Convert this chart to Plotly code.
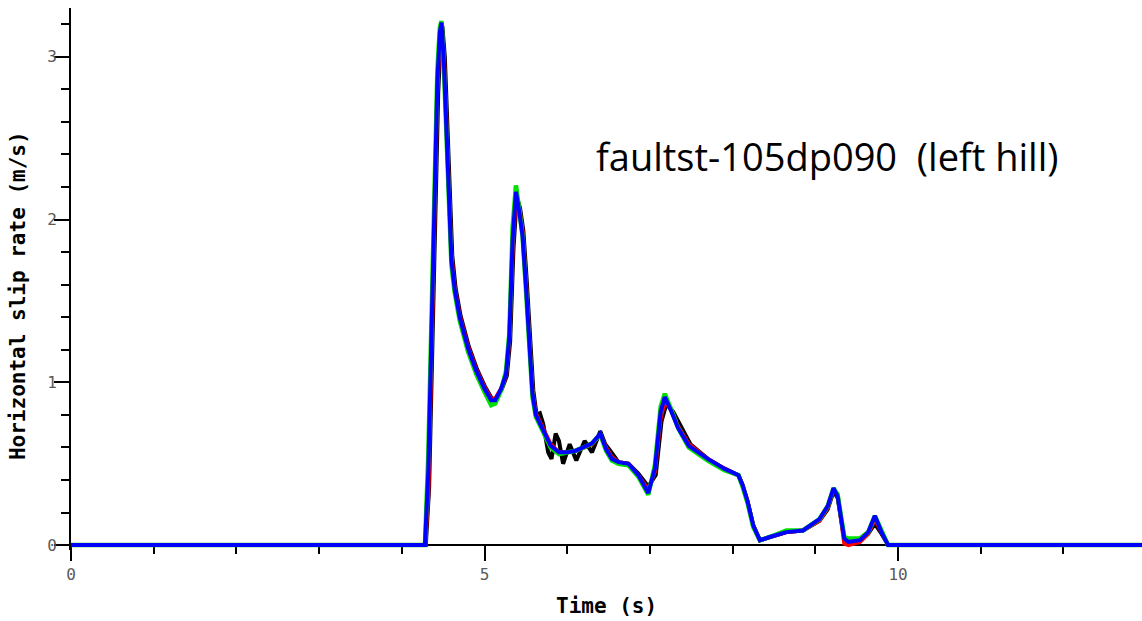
import plotly.graph_objects as go

# Shared time samples (s) for the three smooth solutions
time_s = [
    0, 4.28, 4.32, 4.36, 4.40, 4.43, 4.46, 4.48, 4.51, 4.54,
    4.57, 4.60, 4.64, 4.70, 4.80, 4.90, 5.00, 5.08, 5.13, 5.20,
    5.26, 5.30, 5.34, 5.38, 5.42, 5.46, 5.50, 5.54, 5.58, 5.62,
    5.70, 5.80, 5.90, 6.00, 6.10, 6.20, 6.30, 6.40, 6.47, 6.54,
    6.62, 6.74, 6.86, 6.98, 7.06, 7.13, 7.18, 7.26, 7.34, 7.47,
    7.70, 7.90, 8.07, 8.12, 8.18, 8.25, 8.33, 8.45, 8.65, 8.85,
    9.05, 9.15, 9.22, 9.27, 9.35, 9.40, 9.54, 9.64, 9.72, 9.80,
    9.88, 13.0,
]

slip_blue = [
    0, 0, 0.45, 1.30, 2.25, 2.85, 3.15, 3.21, 2.95, 2.55,
    2.05, 1.75, 1.57, 1.40, 1.21, 1.07, 0.96, 0.89, 0.89, 0.96,
    1.05, 1.28, 1.88, 2.17, 2.05, 1.90, 1.60, 1.25, 0.93, 0.80,
    0.72, 0.61, 0.57, 0.57, 0.58, 0.60, 0.625, 0.685, 0.59, 0.53,
    0.51, 0.50, 0.43, 0.32, 0.47, 0.82, 0.91, 0.82, 0.72, 0.61,
    0.53, 0.47, 0.43, 0.37, 0.27, 0.12, 0.03, 0.05, 0.08, 0.09,
    0.16, 0.24, 0.35, 0.30, 0.04, 0.02, 0.03, 0.08, 0.18, 0.08,
    0.0, 0.0,
]

slip_red = [
    0, 0, 0.30, 1.15, 2.15, 2.80, 3.12, 3.20, 3.00, 2.62,
    2.12, 1.78, 1.58, 1.41, 1.22, 1.08, 0.97, 0.90, 0.90, 0.96,
    1.04, 1.25, 1.82, 2.15, 2.07, 1.93, 1.63, 1.28, 0.95, 0.81,
    0.73, 0.62, 0.57, 0.57, 0.58, 0.60, 0.62, 0.68, 0.60, 0.54,
    0.51, 0.50, 0.43, 0.34, 0.45, 0.78, 0.88, 0.83, 0.73, 0.62,
    0.53, 0.47, 0.43, 0.37, 0.27, 0.12, 0.03, 0.05, 0.08, 0.09,
    0.15, 0.23, 0.34, 0.31, 0.01, 0.0, 0.02, 0.07, 0.16, 0.08,
    0.0, 0.0,
]

slip_green = [
    0, 0, 0.55, 1.42, 2.35, 2.92, 3.18, 3.22, 2.92, 2.50,
    2.00, 1.72, 1.55, 1.38, 1.19, 1.05, 0.94, 0.86, 0.87, 0.95,
    1.07, 1.30, 1.95, 2.21, 2.06, 1.90, 1.58, 1.22, 0.91, 0.79,
    0.71, 0.60, 0.56, 0.57, 0.58, 0.60, 0.625, 0.68, 0.58, 0.52,
    0.50, 0.49, 0.42, 0.31, 0.49, 0.85, 0.93, 0.83, 0.72, 0.60,
    0.52, 0.46, 0.43, 0.36, 0.26, 0.11, 0.03, 0.05, 0.09, 0.09,
    0.16, 0.24, 0.35, 0.31, 0.05, 0.04, 0.04, 0.08, 0.18, 0.09,
    0.0, 0.0,
]

# The black solution carries extra samples for its oscillations
time_black = [
    0, 4.29, 4.33, 4.37, 4.41, 4.44, 4.47, 4.49, 4.52, 4.55,
    4.58, 4.61, 4.65, 4.71, 4.81, 4.91, 5.01, 5.09, 5.14, 5.21,
    5.27, 5.31, 5.35, 5.39, 5.43, 5.47, 5.51, 5.55, 5.59, 5.63,
    5.67, 5.71, 5.77, 5.81, 5.86, 5.90, 5.95, 6.03, 6.11, 6.21,
    6.30, 6.40, 6.46, 6.52, 6.56, 6.62, 6.74, 6.86, 6.98, 7.07,
    7.14, 7.20, 7.28, 7.37, 7.49, 7.70, 7.90, 8.07, 8.12, 8.18,
    8.25, 8.33, 8.45, 8.65, 8.85, 9.05, 9.15, 9.22, 9.27, 9.35,
    9.40, 9.54, 9.64, 9.72, 9.80, 9.88, 13.0,
]

slip_black = [
    0, 0, 0.35, 1.20, 2.15, 2.78, 3.10, 3.19, 3.00, 2.62,
    2.12, 1.78, 1.58, 1.41, 1.22, 1.08, 0.97, 0.90, 0.90, 0.96,
    1.04, 1.25, 1.82, 2.14, 2.07, 1.93, 1.63, 1.28, 0.95, 0.80,
    0.81, 0.745, 0.57, 0.53, 0.685, 0.64, 0.50, 0.62, 0.52, 0.64,
    0.57, 0.70, 0.62, 0.58, 0.55, 0.51, 0.50, 0.44, 0.36, 0.43,
    0.76, 0.87, 0.82, 0.73, 0.62, 0.53, 0.47, 0.43, 0.37, 0.27,
    0.12, 0.03, 0.05, 0.08, 0.09, 0.15, 0.22, 0.33, 0.29, 0.04,
    0.02, 0.03, 0.07, 0.13, 0.07, 0.0, 0.0,
]

x_ticks = [0, 5, 10]
x_tick_text = ["0", "5", "10"]
y_ticks = [0, 1, 2, 3]
y_tick_text = ["0", "1", "2", "3"]

Y_MIN, Y_MAX = -0.03, 3.3
X_MAX = 12.95

fig = go.Figure()
series = [
    (time_black, slip_black, "#000000", 4),
    (time_s, slip_red, "#ff0000", 4),
    (time_s, slip_green, "#00e000", 4.5),
    (time_s, slip_blue, "#0000ff", 4),
]
for tx, vy, color, width in series:
    fig.add_trace(go.Scatter(
        x=tx, y=vy, mode="lines",
        line=dict(color=color, width=width),
        showlegend=False, hoverinfo="skip",
    ))

tick_font = dict(family="DejaVu Sans Mono", size=16, color="#5a5a5a")
title_font = dict(family="DejaVu Sans Mono", size=21, color="#000000")

fig.update_layout(
    width=1142, height=621,
    margin=dict(l=71, r=0, t=8, b=71),
    paper_bgcolor="white", plot_bgcolor="white",
    xaxis=dict(
        range=[0, X_MAX],
        anchor="free", position=(0 - Y_MIN) / (Y_MAX - Y_MIN),
        showline=True, linecolor="black", linewidth=2,
        ticks="outside", ticklen=15, tickwidth=2, tickcolor="black",
        tickvals=x_ticks, ticktext=x_tick_text, tickfont=tick_font,
        minor=dict(dtick=1, tick0=0, ticks="outside", ticklen=8,
                   tickwidth=2, tickcolor="black", showgrid=False),
        showgrid=False, zeroline=False, layer="below traces",
    ),
    yaxis=dict(
        range=[Y_MIN, Y_MAX],
        showline=True, linecolor="black", linewidth=2,
        ticks="outside", ticklen=15, tickwidth=2, tickcolor="black",
        tickvals=y_ticks, ticktext=y_tick_text, tickfont=tick_font,
        ticklabelstandoff=-6,
        minor=dict(dtick=0.2, tick0=0, ticks="outside", ticklen=8,
                   tickwidth=2, tickcolor="black", showgrid=False),
        showgrid=False, zeroline=False, layer="below traces",
    ),
    annotations=[
        dict(
            x=9.14, y=2.39, xref="x", yref="y",
            text="faultst-105dp090\u00a0 (left hill)",
            showarrow=False, xanchor="center", yanchor="middle",
            font=dict(family="Open Sans", size=38, color="black"),
        ),
        dict(
            x=535 / 1071, y=-0.104, xref="paper", yref="paper",
            text="<b>Time (s)</b>",
            showarrow=False, xanchor="center", yanchor="middle",
            font=title_font,
        ),
        dict(
            x=-53 / 1071, y=1.53, xref="paper", yref="y",
            text="<b>Horizontal slip rate (m/s)</b>", textangle=-90,
            showarrow=False, xanchor="center", yanchor="middle",
            font=title_font,
        ),
    ],
)

fig.write_html("out.html")
